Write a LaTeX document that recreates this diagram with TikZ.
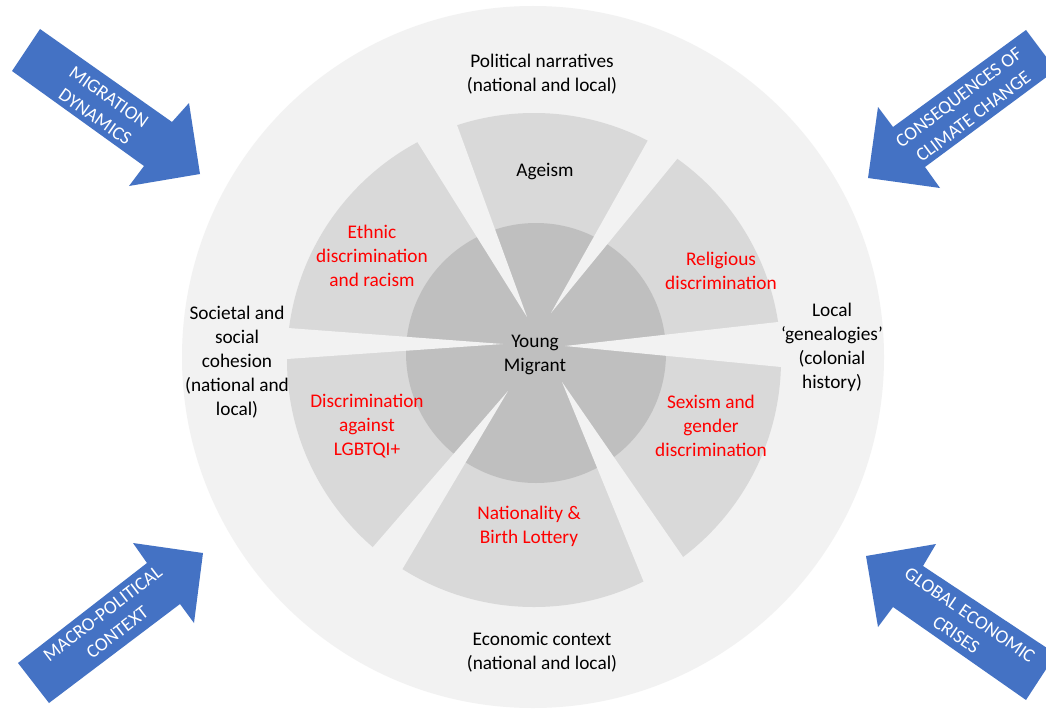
\documentclass[tikz,border=0pt]{standalone}
\usepackage{fontspec}
\setmainfont{Carlito}
\usetikzlibrary{calc}
\definecolor{bgc}{HTML}{F2F2F2}
\definecolor{secc}{HTML}{D9D9D9}
\definecolor{corec}{HTML}{BFBFBF}
\definecolor{arrowblue}{HTML}{4472C4}
\definecolor{redtxt}{HTML}{FF0000}
\newcommand{\lblfont}{\fontsize{19.3}{24}\selectfont}
\newcommand{\arrfont}{\fontsize{19}{24}\selectfont}
\begin{document}
\begin{tikzpicture}[x=1pt,y=-1pt,
  lbl/.style={font=\lblfont, align=center, text=black, inner sep=0pt},
  rlbl/.style={lbl, text=redtxt},
  arrtxt/.style={font=\arrfont, align=center, text=white, inner sep=0pt},
  blockarrow/.style={fill=arrowblue, draw=none},
  gapfill/.style={fill=bgc, draw=none}]
\useasboundingbox (0,0) rectangle (1046,709);
\fill[white] (0,0) rectangle (1046,709);
% circles
\fill[bgc] (533,357) circle[radius=351pt];
\fill[secc] (534,360) circle[radius=247pt];
\fill[corec] (536,353) circle[radius=130pt];
% gaps between sectors
\coordinate (g1t) at (527,317); \coordinate (g1a) at (418,143); \coordinate (g1b) at (457,125);
\coordinate (g2t) at (551,313); \coordinate (g2a) at (647,142); \coordinate (g2b) at (677,159);
\coordinate (g3t) at (565,346); \coordinate (g3a) at (778,322); \coordinate (g3b) at (781,367);
\coordinate (g4t) at (562,382); \coordinate (g4a) at (683,557); \coordinate (g4b) at (643,580);
\coordinate (g5t) at (508,391); \coordinate (g5a) at (403,568); \coordinate (g5b) at (373,547);
\coordinate (g6t) at (503,344); \coordinate (g6a) at (287,359); \coordinate (g6b) at (288,328);
\foreach \g in {g1,g2,g3,g4,g5,g6}{
  \fill[gapfill] (\g t) -- ($(\g t)!1.15!(\g a)$) -- ($(\g t)!1.15!(\g b)$) -- cycle;
}
% labels
\node[lbl] (polit) at (542,74) {Political narratives\\(national and local)};
\node[lbl] (econ) at (542,652) {Economic context\\(national and local)};
\node[lbl] (soc) at (237,362) {Societal and\\social\\cohesion\\(national and\\local)};
\node[lbl] (local) at (832,347) {Local\\‘genealogies’\\(colonial\\history)};
\node[lbl] (young) at (535,355) {Young\\Migrant};
\node[lbl] (age) at (545,172) {Ageism};
\node[rlbl] (eth) at (372,256) {Ethnic\\discrimination\\and racism};
\node[rlbl] (rel) at (721,271) {Religious\\discrimination};
\node[rlbl] (sex) at (711,426) {Sexism and\\gender\\discrimination};
\node[rlbl] (lgb) at (367,426) {Discrimination\\against\\LGBTQI+};
\node[rlbl] (nat) at (529,526) {Nationality \&\\Birth Lottery};
% block arrows
\fill[blockarrow] (40,29) -- (172,122) -- (189,103) -- (200,174) -- (129,186) -- (144,166) -- (12,71) -- cycle;
\node[arrtxt, rotate=-35] (migr) at (102,107) {MIGRATION\\DYNAMICS};
\fill[blockarrow] (1026,30) -- (893,127) -- (878,107) -- (868,178) -- (940,188) -- (925,167) -- (1056,70) -- cycle;
\node[arrtxt, rotate=37] (clim) at (966,107) {CONSEQUENCES OF\\CLIMATE CHANGE};
\fill[blockarrow] (18,663) -- (147,563) -- (133,543) -- (203,553) -- (194,623) -- (180,604) -- (49,703) -- cycle;
\node[arrtxt, rotate=37.5] (macro) at (110,623) {MACRO-POLITICAL\\CONTEXT};
\fill[blockarrow] (866,556) -- (936,544) -- (923,566) -- (1056,654) -- (1026,700) -- (893,607) -- (878,627) -- cycle;
\node[arrtxt, rotate=-34.5] (glob) at (963,625) {GLOBAL ECONOMIC\\CRISES};
\end{tikzpicture}
\end{document}
